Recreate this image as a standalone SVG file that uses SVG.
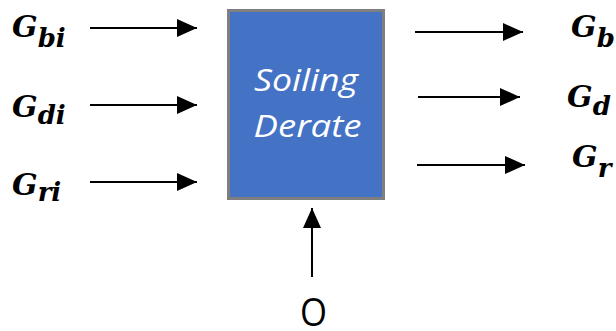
<svg xmlns="http://www.w3.org/2000/svg" width="616" height="331" viewBox="0 0 616 331">
<style>
.g{font-family:"DejaVu Serif","Liberation Serif",serif;font-weight:bold;font-style:italic;fill:#000}
.G{font-size:30px}
.s{font-size:26px}
.c{stroke:#000;stroke-width:2;fill:none;marker-end:url(#ah)}
.lbl{font-family:"Open Sans","Liberation Sans",sans-serif;font-style:italic;font-size:31px;fill:#fff;text-anchor:middle}
</style>
<defs>
<marker id="ah" markerUnits="userSpaceOnUse" markerWidth="20" markerHeight="18" refX="20" refY="9" orient="auto" viewBox="0 0 20 18">
<path d="M0,0 L20,9 L0,18 z" fill="#000"/>
</marker>
</defs>
<g id="box">
<rect x="228.5" y="10.5" width="155" height="188" fill="#4472C4" stroke="#7F7F7F" stroke-width="3"/>
<text class="lbl" x="306" y="91" textLength="104" lengthAdjust="spacingAndGlyphs">Soiling</text>
<text class="lbl" x="307.5" y="137" textLength="108" lengthAdjust="spacingAndGlyphs">Derate</text>
</g>
<g id="in-b"><text class="g" x="12" y="37"><tspan class="G">G</tspan><tspan class="s" dy="10">bi</tspan></text></g>
<g id="in-d"><text class="g" x="12" y="117"><tspan class="G">G</tspan><tspan class="s" dy="7">di</tspan></text></g>
<g id="in-r"><text class="g" x="12" y="195"><tspan class="G">G</tspan><tspan class="s" dy="6">ri</tspan></text></g>
<g id="out-b"><text class="g" x="571" y="37"><tspan class="G">G</tspan><tspan class="s" dy="10">b</tspan></text></g>
<g id="out-d"><text class="g" x="567" y="107"><tspan class="G">G</tspan><tspan class="s" dy="8">d</tspan></text></g>
<g id="out-r"><text class="g" x="572" y="167"><tspan class="G">G</tspan><tspan class="s" dy="10">r</tspan></text></g>
<g id="in-o"><text x="313.5" y="326" font-family="Open Sans, sans-serif" font-size="39" text-anchor="middle" textLength="27" lengthAdjust="spacingAndGlyphs">O</text></g>
<g id="connectors">
<line class="c" x1="90" y1="28" x2="197" y2="28"/>
<line class="c" x1="90" y1="105" x2="197" y2="105"/>
<line class="c" x1="90" y1="182" x2="197" y2="182"/>
<line class="c" x1="415" y1="32" x2="523" y2="32"/>
<line class="c" x1="418" y1="97" x2="520" y2="97"/>
<line class="c" x1="417" y1="165" x2="525" y2="165"/>
<line class="c" x1="312" y1="277" x2="312" y2="208"/>
</g>
</svg>
